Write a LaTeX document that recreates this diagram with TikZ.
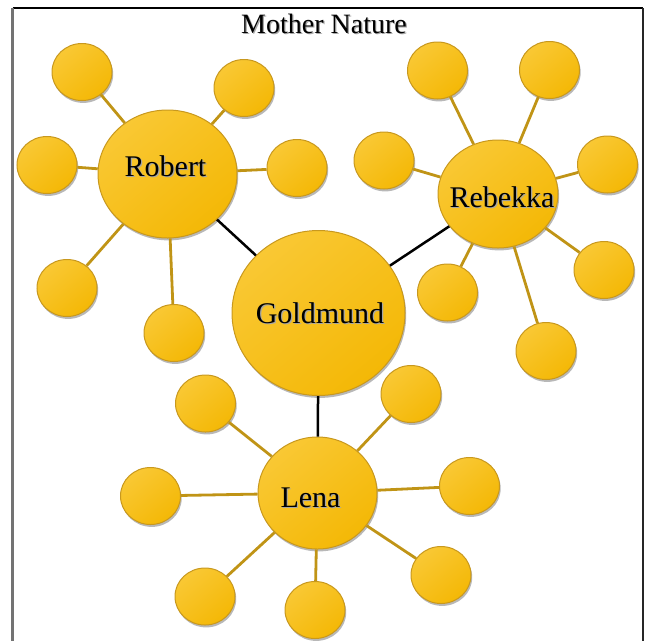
\documentclass[tikz,border=0pt]{standalone}
\usepackage{fontspec}
\setmainfont{Liberation Serif}
\usetikzlibrary{shapes.geometric,shadows}
\definecolor{bubtop}{RGB}{249,200,52}
\definecolor{bubbot}{RGB}{244,184,6}
\definecolor{bubedge}{RGB}{200,152,30}
\definecolor{spoke}{RGB}{192,148,22}
\newcommand\shadowed[1]{\makebox[0pt][l]{\hspace*{1.2pt}\raisebox{-1.2pt}{\color{black!35}#1}}#1}
\newcommand\hublabel[3]{\makebox[0pt]{\hspace*{#1pt}\hspace*{#1pt}\raisebox{-#2pt}[0pt][0pt]{\shadowed{#3}}}}
\tikzset{
  bubble/.style={ellipse, inner sep=0pt, draw=bubedge, line width=1pt,
    top color=bubtop, bottom color=bubbot, shading angle=40,
    drop shadow={shadow xshift=1.2pt, shadow yshift=-2.4pt, fill=black, opacity=0.28}},
  sat/.style={bubble, minimum width=60pt, minimum height=57pt},
  hub/.style={bubble, font=\fontsize{30}{34}\selectfont},
  spokeline/.style={draw=spoke, line width=2.8pt},
  mainline/.style={draw=black, line width=2.5pt}
}
\begin{document}
\begin{tikzpicture}[x=1pt,y=-1pt]
\useasboundingbox (0,0) rectangle (647,641);
% frame
\draw[black, line width=1.2pt] (12.5,8) -- (643,8);
\draw[black!55, line width=2.2pt] (12.5,8) -- (12.5,641);
\draw[black!85, line width=1.5pt] (643,8) -- (643,641);
% title
\node[anchor=base, font=\fontsize{28}{32}\selectfont, inner sep=0pt] (title) at (324,33) {\shadowed{Mother Nature}};
% hubs
\node[hub, minimum width=173pt, minimum height=165pt] (gold) at (318.5,313) {\hublabel{1.5}{10}{Goldmund}};
\node[hub, minimum width=139pt, minimum height=128pt] (robert) at (167.5,174) {\hublabel{-2}{2}{Robert}};
\node[hub, minimum width=120pt, minimum height=108pt] (rebekka) at (498,194) {\hublabel{4}{13}{Rebekka}};
\node[hub, minimum width=119pt, minimum height=112pt] (lena) at (317.5,493) {\hublabel{-7}{14}{Lena}};
% Robert satellites
\node[sat] (r1) at (82,72) {};
\node[sat] (r2) at (244,88) {};
\node[sat] (r3) at (47,165) {};
\node[sat] (r4) at (297,168) {};
\node[sat] (r5) at (67,288) {};
\node[sat] (r6) at (174,333) {};
% Rebekka satellites
\node[sat] (b1) at (437.5,70.5) {};
\node[sat] (b2) at (549.5,70) {};
\node[sat] (b3) at (384,160.5) {};
\node[sat] (b4) at (607.5,164.5) {};
\node[sat] (b5) at (447.5,292.5) {};
\node[sat] (b6) at (604,270) {};
\node[sat] (b7) at (546,351) {};
% Lena satellites
\node[sat] (l1) at (205.5,403.5) {};
\node[sat] (l2) at (411,394) {};
\node[sat] (l3) at (150.5,496) {};
\node[sat] (l4) at (469.5,486) {};
\node[sat] (l5) at (205,596.5) {};
\node[sat] (l6) at (315,610) {};
\node[sat] (l7) at (441,575) {};
% main connectors
\draw[mainline] (gold) -- (robert);
\draw[mainline] (gold) -- (rebekka);
\draw[mainline] (gold) -- (lena);
% spokes
\foreach \s in {r1,r2,r3,r4,r5,r6} \draw[spokeline] (robert) -- (\s);
\foreach \s in {b1,b2,b3,b4,b5,b6,b7} \draw[spokeline] (rebekka) -- (\s);
\foreach \s in {l1,l2,l3,l4,l5,l6,l7} \draw[spokeline] (lena) -- (\s);
\end{tikzpicture}
\end{document}
